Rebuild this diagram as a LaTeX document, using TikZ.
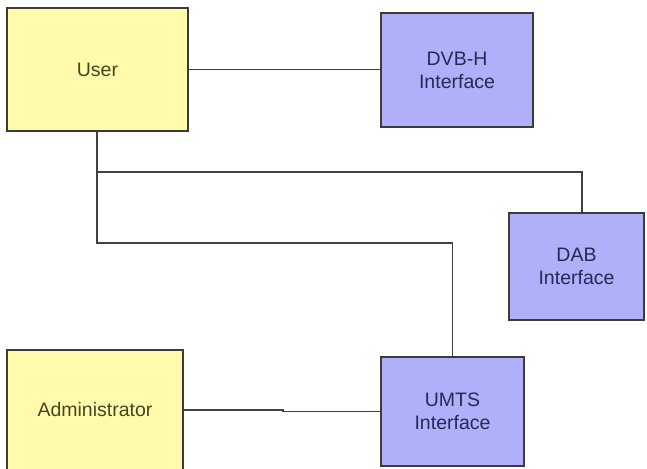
\documentclass[tikz,border=0pt]{standalone}
\usepackage{fontspec}
\setmainfont{Liberation Sans}
\definecolor{uyellow}{RGB}{255,250,172}
\definecolor{ublue}{RGB}{176,176,250}
\definecolor{ytext}{RGB}{70,70,30}
\definecolor{btext}{RGB}{40,40,85}
\definecolor{edgeg}{RGB}{60,60,55}
\definecolor{lineg}{RGB}{65,65,65}
\begin{document}
\begin{tikzpicture}[x=1pt,y=1pt,
  actor/.style={draw=edgeg,line width=1.6pt,fill=uyellow,text=ytext,rectangle,inner sep=0pt,
     font=\fontsize{19.5}{23}\selectfont,align=center},
  iface/.style={draw=edgeg,line width=1.6pt,fill=ublue,text=btext,rectangle,inner sep=0pt,
     font=\fontsize{19.5}{23}\selectfont,align=center},
  wire/.style={draw=lineg,line width=1.3pt}]
\useasboundingbox (0,-468) rectangle (647,0);
\fill[white] (0,-468) rectangle (647,0);
\node[actor,minimum width=181,minimum height=123] (user) at (97.5,-69.5) {User};
\node[iface,minimum width=152,minimum height=114] (dvb) at (457,-70) {DVB-H\\Interface};
\node[iface,minimum width=135,minimum height=107] (dab) at (576.5,-266.5) {DAB\\Interface};
\node[iface,minimum width=143,minimum height=109] (umts) at (452.5,-411.5) {UMTS\\Interface};
\node[actor,minimum width=176,minimum height=120] (admin) at (95,-410) {Administrator};
\coordinate (j1) at (97,-172);
\coordinate (j2) at (97,-243);
\coordinate (d1) at (582,-172);
\coordinate (k1) at (283,-410);
\coordinate (k2) at (283,-411.5);
\draw[wire] (user.east) -- (user.east -| dvb.west);
\draw[wire] (user.south -| j1) -- (j2) -| (umts.north);
\draw[wire] (j1) -- (d1) -- (d1 |- dab.north);
\draw[wire] (admin.east) -- (k1) -- (k2) -- (umts.west);
\end{tikzpicture}
\end{document}
